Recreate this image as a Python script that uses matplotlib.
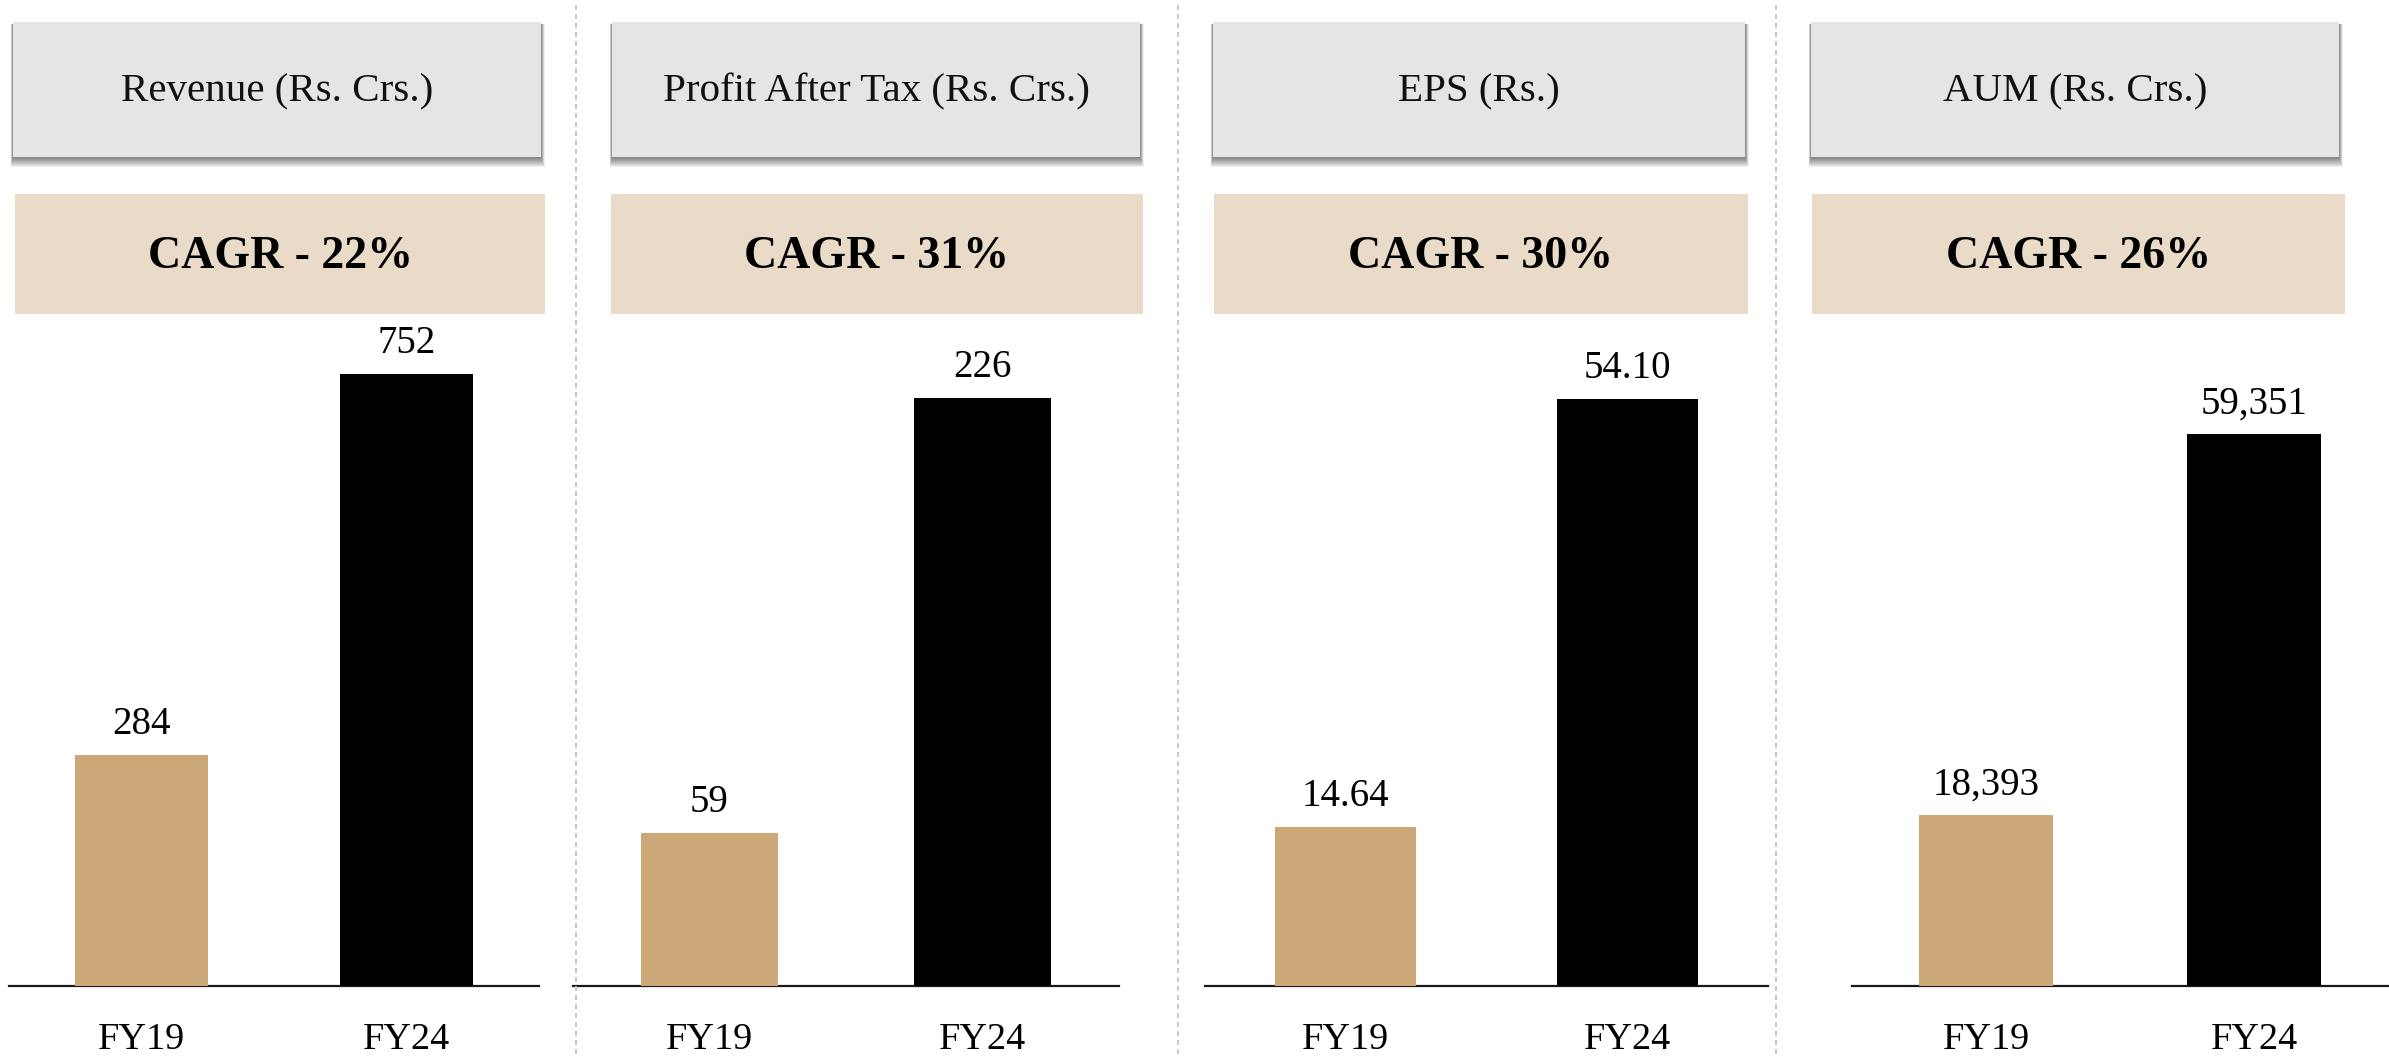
import matplotlib
matplotlib.use("Agg")
import matplotlib.pyplot as plt
from matplotlib.patches import Rectangle
from matplotlib.lines import Line2D

# ---------------- data ----------------
categories = ["FY19", "FY24"]
titles = ["Revenue (Rs. Crs.)", "Profit After Tax (Rs. Crs.)", "EPS (Rs.)", "AUM (Rs. Crs.)"]
cagr_labels = ["CAGR - 22%", "CAGR - 31%", "CAGR - 30%", "CAGR - 26%"]
revenue = [284, 752]
profit_after_tax = [59, 226]
eps = [14.64, 54.10]
aum = [18393, 59351]
series = [revenue, profit_after_tax, eps, aum]
value_formats = ["{:,.0f}", "{:,.0f}", "{:.2f}", "{:,.0f}"]

# ---------------- style / layout ----------------
W, H = 2389, 1056
FONT = "Liberation Serif"
bar_colors = ["#cca778", "#000000"]
gray_box = "#e5e5e5"
cagr_box = "#e9dbc8"

# pixel layout (x0, x1) of each panel's axis, title box and CAGR box
axis_px = [(9, 539), (573, 1119), (1205, 1768), (1852, 2388)]
title_px = [(13, 541), (612, 1140), (1213, 1745), (1811, 2339)]
cagr_px = [(15, 545), (611, 1143), (1214, 1748), (1812, 2345)]
sep_px = [576, 1178, 1776]
title_y = (22, 157)
cagr_y = (194, 314)
axis_bottom_px, axis_top_px = 986, 330
top_frac = [0.933, 0.896, 0.895, 0.841]  # how high the tallest bar reaches in each axis

fig = plt.figure(figsize=(W / 100, H / 100), dpi=100)
fig.patch.set_facecolor("white")


def fx(x):
    return x / W


def fy(y):
    return 1 - y / H


# separators
for sx in sep_px:
    fig.add_artist(Line2D([fx(sx), fx(sx)], [fy(5), fy(H)], color="#bdbdbd", lw=1.2,
                          linestyle=(0, (3, 2.4)), transform=fig.transFigure))

# header boxes
for i in range(4):
    x0, x1 = title_px[i]
    y0, y1 = title_y
    # soft drop shadow
    for k in range(1, 11):
        fig.add_artist(Rectangle((fx(x0 - k * 0.25), fy(y1 + k)), fx(x1 - x0 + k * 0.6),
                                 (y1 + k - y0 - 2) / H, transform=fig.transFigure,
                                 facecolor="black", edgecolor="none", alpha=0.06, zorder=1))
    fig.add_artist(Rectangle((fx(x0), fy(y1)), fx(x1 - x0), (y1 - y0) / H,
                             transform=fig.transFigure, facecolor=gray_box,
                             edgecolor="none", zorder=2))
    fig.text(fx((x0 + x1) / 2), fy((y0 + y1) / 2 + 2), titles[i], ha="center", va="center",
             fontsize=29.5, family=FONT, color="#111111", zorder=3)

    c0, c1 = cagr_px[i]
    fig.add_artist(Rectangle((fx(c0), fy(cagr_y[1])), fx(c1 - c0), (cagr_y[1] - cagr_y[0]) / H,
                             transform=fig.transFigure, facecolor=cagr_box,
                             edgecolor="none", zorder=2))
    fig.text(fx((c0 + c1) / 2), fy((cagr_y[0] + cagr_y[1]) / 2 + 3), cagr_labels[i],
             ha="center", va="center", fontsize=33, family=FONT, weight="bold",
             color="black", zorder=3)

# bar panels
for i in range(4):
    a0, a1 = axis_px[i]
    ax = fig.add_axes([fx(a0), fy(axis_bottom_px), fx(a1 - a0),
                       (axis_bottom_px - axis_top_px) / H])
    vals = series[i]
    ax.bar(range(len(categories)), vals, width=0.5, color=bar_colors, zorder=2)
    ax.set_xlim(-0.5, 1.5)
    ax.set_ylim(0, max(vals) / top_frac[i])
    for j, v in enumerate(vals):
        ax.annotate(value_formats[i].format(v), (j, v), xytext=(0, 15),
                    textcoords="offset points", ha="center", va="baseline",
                    fontsize=28, family=FONT, color="black", annotation_clip=False)
    ax.set_xticks(range(len(categories)))
    ax.set_xticklabels(categories, fontsize=27.5, family=FONT, color="black")
    ax.tick_params(axis="x", length=0, pad=26)
    ax.set_yticks([])
    for s in ["top", "left", "right"]:
        ax.spines[s].set_visible(False)
    ax.spines["bottom"].set_color("#1a1a1a")
    ax.spines["bottom"].set_linewidth(1.6)
    ax.spines["bottom"].set_zorder(1)
    ax.patch.set_alpha(0)

fig.savefig("out.png", dpi=100, facecolor="white")
